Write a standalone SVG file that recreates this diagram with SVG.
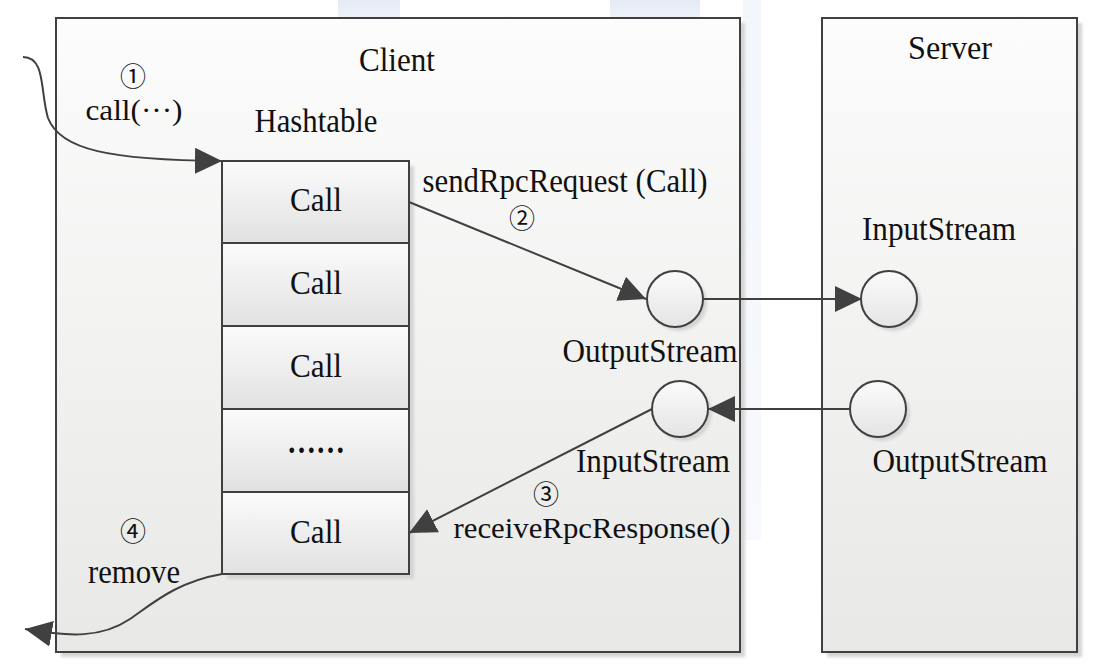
<svg xmlns="http://www.w3.org/2000/svg" width="1106" height="672" viewBox="0 0 1106 672">
<defs>
<linearGradient id="boxG" x1="0" y1="0" x2="0" y2="1">
<stop offset="0" stop-color="#fcfcfc"/>
<stop offset="1" stop-color="#e8e8e6"/>
</linearGradient>
<linearGradient id="cellG" x1="0" y1="0" x2="0" y2="1">
<stop offset="0" stop-color="#fbfbfb"/>
<stop offset="1" stop-color="#e1e1e1"/>
</linearGradient>
<linearGradient id="circG" x1="0" y1="0" x2="0" y2="1">
<stop offset="0" stop-color="#fbfbfb"/>
<stop offset="1" stop-color="#e4e4e4"/>
</linearGradient>
<linearGradient id="wmG" x1="0" y1="0" x2="0" y2="1">
<stop offset="0" stop-color="#e4ebf6"/>
<stop offset="1" stop-color="#eef2f9"/>
</linearGradient>
<filter id="blur" x="-10%" y="-10%" width="120%" height="120%">
<feGaussianBlur stdDeviation="1.5"/>
</filter>
<marker id="arr" markerUnits="userSpaceOnUse" markerWidth="30" markerHeight="28" refX="27" refY="13" orient="auto">
<path d="M0,0 L27,13 L0,26 Z" fill="#404040"/>
</marker>
<style>
.box{fill:url(#boxG);stroke:#404040;stroke-width:2}
.cell{fill:url(#cellG);stroke:#404040;stroke-width:2}
.circ{fill:url(#circG);stroke:#404040;stroke-width:2}
.sh{fill:#d4d4d4;filter:url(#blur)}
.t{font-family:"Liberation Serif","Times New Roman",serif;font-size:33px;fill:#111;text-anchor:middle}
.m{font-size:29px}
.n{font-family:"Noto Sans CJK SC","DejaVu Sans",sans-serif;font-size:26px;fill:#111;text-anchor:middle}
.c{fill:none;stroke:#404040;stroke-width:2}
.wm{fill:url(#wmG)}
</style>
</defs>
<rect x="0" y="0" width="1106" height="672" fill="#ffffff"/>
<g id="watermark">
<rect class="wm" x="338" y="0" width="62" height="18"/>
<rect class="wm" x="610" y="0" width="90" height="18"/>
<rect class="wm" x="743" y="0" width="18" height="540" opacity="0.45"/>
</g>
<g id="client">
<rect class="sh" x="61" y="23" width="684" height="634"/>
<rect class="box" x="56" y="18" width="684" height="634"/>
<text class="t" x="397" y="71" textLength="76" lengthAdjust="spacingAndGlyphs">Client</text>
</g>
<g id="server">
<rect class="sh" x="827" y="23" width="255" height="634"/>
<rect class="box" x="822" y="18" width="255" height="634"/>
<text class="t" x="950" y="59" textLength="84" lengthAdjust="spacingAndGlyphs">Server</text>
</g>
<g id="hashtable">
<text class="t" x="316" y="132" textLength="123" lengthAdjust="spacingAndGlyphs">Hashtable</text>
<rect class="sh" x="227" y="166" width="187" height="413"/>
</g>
<g id="cell1"><rect class="cell" x="222" y="161" width="187" height="82"/><text class="t" x="316" y="211" textLength="52" lengthAdjust="spacingAndGlyphs">Call</text></g>
<g id="cell2"><rect class="cell" x="222" y="243" width="187" height="83"/><text class="t" x="316" y="294" textLength="52" lengthAdjust="spacingAndGlyphs">Call</text></g>
<g id="cell3"><rect class="cell" x="222" y="326" width="187" height="83"/><text class="t" x="316" y="377" textLength="52" lengthAdjust="spacingAndGlyphs">Call</text></g>
<g id="cell4"><rect class="cell" x="222" y="409" width="187" height="83"/><text class="t" x="316" y="453" style="font-size:34px;font-weight:bold" textLength="58" lengthAdjust="spacingAndGlyphs">……</text></g>
<g id="cell5"><rect class="cell" x="222" y="492" width="187" height="82"/><text class="t" x="316" y="543" textLength="52" lengthAdjust="spacingAndGlyphs">Call</text></g>
<g id="clientOut">
<circle class="sh" cx="679" cy="303" r="28"/>
<circle class="circ" cx="675" cy="299" r="28"/>
<text class="t" x="650" y="362" textLength="175" lengthAdjust="spacingAndGlyphs">OutputStream</text>
</g>
<g id="clientIn">
<circle class="sh" cx="684" cy="413" r="28"/>
<circle class="circ" cx="680" cy="409" r="28"/>
<text class="t" x="653" y="472" textLength="154" lengthAdjust="spacingAndGlyphs">InputStream</text>
</g>
<g id="serverIn">
<circle class="sh" cx="893" cy="303" r="28"/>
<circle class="circ" cx="889" cy="299" r="28"/>
<text class="t" x="939" y="240" textLength="154" lengthAdjust="spacingAndGlyphs">InputStream</text>
</g>
<g id="serverOut">
<circle class="sh" cx="882" cy="413" r="28"/>
<circle class="circ" cx="878" cy="409" r="28"/>
<text class="t" x="960" y="472" textLength="175" lengthAdjust="spacingAndGlyphs">OutputStream</text>
</g>
<g id="connectors">
<path class="c" d="M23,57 C46,57 40,92 48,118 C60,150 110,160 222,161" marker-end="url(#arr)"/>
<path class="c" d="M409,202 L646,299" marker-end="url(#arr)"/>
<path class="c" d="M703,299 L862,299" marker-end="url(#arr)"/>
<path class="c" d="M850,409 L708,409" marker-end="url(#arr)"/>
<path class="c" d="M652,409 L409,533" marker-end="url(#arr)"/>
<path class="c" d="M222,574 C176,582 152,604 130,619 C102,638 70,637 25,629" marker-end="url(#arr)"/>
</g>
<g id="labels">
<text class="n" x="133" y="86">①</text>
<text class="t m" x="134" y="120" textLength="97" lengthAdjust="spacingAndGlyphs">call(···)</text>
<text class="t" x="565" y="192" textLength="285" lengthAdjust="spacingAndGlyphs">sendRpcRequest (Call)</text>
<text class="n" x="522" y="228">②</text>
<text class="n" x="546" y="504">③</text>
<text class="t m" x="592" y="538" textLength="277" lengthAdjust="spacingAndGlyphs">receiveRpcResponse()</text>
<text class="n" x="133" y="541">④</text>
<text class="t" x="134" y="583" textLength="92" lengthAdjust="spacingAndGlyphs">remove</text>
</g>
</svg>
